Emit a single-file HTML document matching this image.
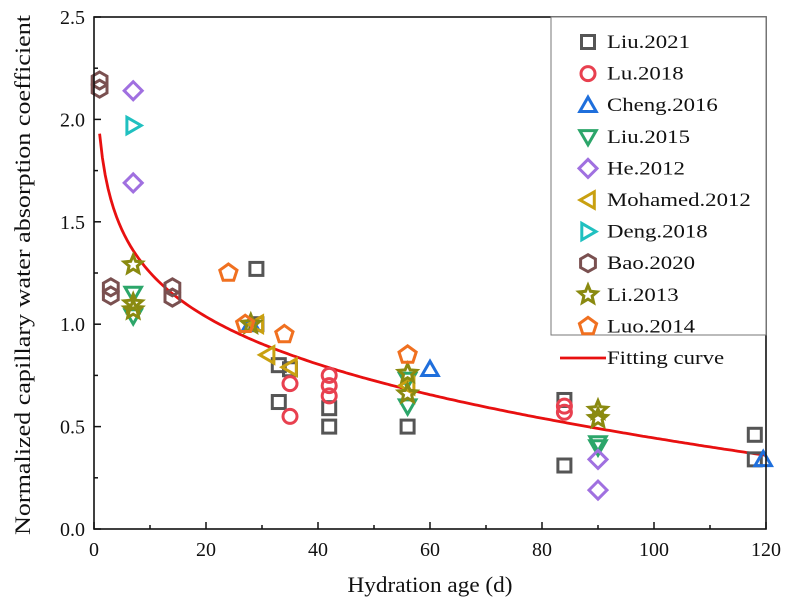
<!DOCTYPE html>
<html><head><meta charset="utf-8"><style>
body{margin:0;background:#fff;}
svg text{font-family:"Liberation Serif",serif;fill:#111;}
</style></head><body>
<svg id="chart" width="787" height="610" xmlns="http://www.w3.org/2000/svg">
<g id="marks"></g>
<g id="axes"></g>
<g id="legend"></g>
</svg>
<script>
const seriesNames=["Liu.2021","Lu.2018","Cheng.2016","Liu.2015","He.2012","Mohamed.2012","Deng.2018","Bao.2020","Li.2013","Luo.2014"];
const liu2021X=[29,29,33,33,35,42,42,56,84,84,118,118];
const liu2021Y=[1.27,1.0,0.80,0.62,0.78,0.59,0.50,0.50,0.63,0.31,0.46,0.34];
const lu2018X=[35,35,42,42,42,84,84];
const lu2018Y=[0.71,0.55,0.75,0.70,0.65,0.60,0.57];
const cheng2016X=[28,60,119.5];
const cheng2016Y=[1.0,0.78,0.34];
const liu2015X=[7,7,56,56,90,90];
const liu2015Y=[1.15,1.04,0.73,0.60,0.42,0.40];
const he2012X=[7,7,90,90];
const he2012Y=[2.14,1.69,0.34,0.19];
const mohamed2012X=[29,31,35,56];
const mohamed2012Y=[1.0,0.85,0.79,0.70];
const deng2018X=[7];
const deng2018Y=[1.97];
const bao2020X=[1,1,3,3,14,14];
const bao2020Y=[2.19,2.15,1.18,1.14,1.18,1.13];
const li2013X=[7,7,7,28,56,56,90,90];
const li2013Y=[1.29,1.10,1.07,1.0,0.76,0.66,0.58,0.54];
const luo2014X=[24,27,34,56];
const luo2014Y=[1.25,1.0,0.95,0.85];
const xTicks=[0,20,40,60,80,100,120];
const yTicks=[0.0,0.5,1.0,1.5,2.0,2.5];
const fitA=1.9316, fitB=0.288, fitC=0.00161;

const X0=94,X1=766,Y0=529,Y1=17;
const xs=v=>X0+(v-0)/(120-0)*(X1-X0);
const ys=v=>Y0-(v-0)/(2.5-0)*(Y0-Y1);
const NS="http://www.w3.org/2000/svg";
function mk(tag,attrs,parent){const e=document.createElementNS(NS,tag);for(const k in attrs)e.setAttribute(k,attrs[k]);parent.appendChild(e);return e;}
const colors=["#555555","#e8404f","#1f6fdc","#2ca66a","#a070e0","#c9a010","#20c0c0","#7a5050","#8a8a10","#f07020"];
const shapes=["square","circle","up","down","diamond","left","right","hex","star","pent"];
const dataX=[liu2021X,lu2018X,cheng2016X,liu2015X,he2012X,mohamed2012X,deng2018X,bao2020X,li2013X,luo2014X];
const dataY=[liu2021Y,lu2018Y,cheng2016Y,liu2015Y,he2012Y,mohamed2012Y,deng2018Y,bao2020Y,li2013Y,luo2014Y];
function poly(cx,cy,n,r,rot){let p=[];for(let i=0;i<n;i++){const a=rot+i*2*Math.PI/n;p.push((cx+r*Math.cos(a)).toFixed(1)+","+(cy+r*Math.sin(a)).toFixed(1));}return p.join(" ");}
function marker(shape,cx,cy,col,parent){
  const st={fill:"none",stroke:col,"stroke-width":3};let e;
  if(shape==="square")e=mk("rect",Object.assign({x:cx-6.5,y:cy-6.5,width:13,height:13},st),parent);
  else if(shape==="circle")e=mk("circle",Object.assign({cx:cx,cy:cy,r:7},st),parent);
  else{let pts;
    if(shape==="up")pts=poly(cx,cy+1.5,3,9.5,-Math.PI/2);
    else if(shape==="down")pts=poly(cx,cy-1.5,3,9.5,Math.PI/2);
    else if(shape==="left")pts=poly(cx+1.5,cy,3,9.5,Math.PI);
    else if(shape==="right")pts=poly(cx-1.5,cy,3,9.5,0);
    else if(shape==="diamond")pts=poly(cx,cy,4,9,0);
    else if(shape==="hex")pts=poly(cx,cy,6,8.5,-Math.PI/2);
    else if(shape==="pent")pts=poly(cx,cy,5,9,-Math.PI/2);
    else if(shape==="star"){let p=[];for(let i=0;i<10;i++){const r=i%2?4.3:9.5;const a=-Math.PI/2+i*Math.PI/5;p.push((cx+r*Math.cos(a)).toFixed(1)+","+(cy+r*Math.sin(a)).toFixed(1));}pts=p.join(" ");}
    e=mk("polygon",Object.assign({points:pts},st),parent);}
  return e;
}
const marks=document.getElementById("marks");
let d="";for(let x=1;x<=120;x+=0.5){const y=fitA-fitB*Math.log(x)-fitC*x;d+=(d?"L":"M")+xs(x).toFixed(1)+","+ys(y).toFixed(1);}
const curve=mk("path",{d:d,fill:"none",stroke:"#e81010","stroke-width":2.8},marks);


for(let s=0;s<dataX.length;s++){
  for(let i=0;i<dataX[s].length;i++){
    const m=marker(shapes[s],xs(dataX[s][i]),ys(dataY[s][i]),colors[s],marks);
    
    
  }
}
const axes=document.getElementById("axes");
const frame=mk("rect",{x:X0,y:Y1,width:X1-X0,height:Y0-Y1,fill:"none",stroke:"#111","stroke-width":1.6},axes);


for(let i=0;i<xTicks.length;i++){
  const x=xs(xTicks[i]);
  mk("line",{x1:x,y1:Y0,x2:x,y2:Y0-7,stroke:"#111","stroke-width":1.5},axes);
  if(i<xTicks.length-1)mk("line",{x1:xs(xTicks[i]+10),y1:Y0,x2:xs(xTicks[i]+10),y2:Y0-4,stroke:"#111","stroke-width":1.5},axes);
  const t=mk("text",{x:x,y:Y0+27,"text-anchor":"middle","font-size":20},axes);t.textContent=xTicks[i];
  
  
}
for(let i=0;i<yTicks.length;i++){
  const y=ys(yTicks[i]);
  mk("line",{x1:X0,y1:y,x2:X0+7,y2:y,stroke:"#111","stroke-width":1.5},axes);
  if(i<yTicks.length-1)mk("line",{x1:X0,y1:ys(yTicks[i]+0.25),x2:X0+4,y2:ys(yTicks[i]+0.25),stroke:"#111","stroke-width":1.5},axes);
  const t=mk("text",{x:X0-9,y:y+7,"text-anchor":"end","font-size":20},axes);t.textContent=yTicks[i].toFixed(1);
  
  
}
const xt=mk("text",{x:430,y:592,"text-anchor":"middle","font-size":22,textLength:165,lengthAdjust:"spacingAndGlyphs"},axes);xt.textContent="Hydration age (d)";


const yt=mk("text",{x:0,y:0,"text-anchor":"middle","font-size":22,textLength:520,lengthAdjust:"spacingAndGlyphs",transform:"translate(30,275) rotate(-90)"},axes);yt.textContent="Normalized capillary water absorption coefficient";


const lg=document.getElementById("legend");
const box=mk("rect",{x:551,y:17,width:215,height:318,fill:"#fff",stroke:"#777","stroke-width":1},lg);


for(let s=0;s<seriesNames.length+1;s++){
  const y=42+s*31.6;
  const g=mk("g",{},lg);
  
  
  if(s<seriesNames.length)marker(shapes[s],588,y,colors[s],g);
  else mk("line",{x1:560,y1:y,x2:606,y2:y,stroke:"#e81010","stroke-width":2.8},g);
  const t=mk("text",{x:607,y:y+6,"font-size":19},g);
  t.textContent=s<seriesNames.length?seriesNames[s]:"Fitting curve";
  const w=t.getComputedTextLength();
  t.setAttribute("textLength",(w*1.2).toFixed(1));
  t.setAttribute("lengthAdjust","spacingAndGlyphs");
}
</script>
</body></html>
